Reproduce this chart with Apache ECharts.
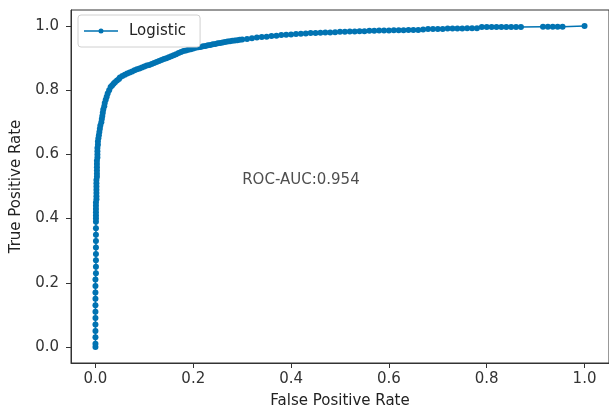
<!DOCTYPE html>
<html>
<head>
<meta charset="utf-8">
<script src="https://cdn.jsdelivr.net/npm/echarts@6/dist/echarts.min.js"></script>
<style>
html,body{margin:0;padding:0;background:#fff;}
#chart{width:609px;height:419px;}
</style>
</head>
<body>
<div id="chart"></div>
<script>
const seriesName = 'Logistic';
// vertical part, lower (sparse)
const fprLow = [0,0,0,0,0,0,0,0,0,0,0,0, 0.001,0.001,0.001,0.001,0.001,0.001,0.001,0.001,0.001];
const tprLow = [0,0.01,0.03,0.05,0.07,0.09,0.11,0.13,0.15,0.17,0.19,0.21, 0.23,0.25,0.27,0.29,0.31,0.33,0.35,0.37,0.39];
// vertical part, upper (dense)
const fprMid = [0.001,0.001,0.001,0.001,0.001,0.001, 0.002,0.002,0.002,0.002,0.002,0.002,0.002,
  0.003,0.003,0.003,0.003,0.003,0.003, 0.004,0.004,0.004,0.004, 0.005,0.005];
const tprMid = [0.40,0.41,0.42,0.43,0.44,0.45, 0.46,0.47,0.48,0.49,0.50,0.51,0.52,
  0.53,0.54,0.55,0.56,0.57,0.58, 0.59,0.60,0.61,0.62, 0.63,0.64];
// knee
const fprKnee = [0.006,0.007,0.008,0.009,0.010,0.012,0.013,0.014,0.015,0.016,0.018,0.019,0.021,0.023,0.025,0.028,0.031,0.034,0.037,0.040,0.044,0.048];
const tprKnee = [0.65,0.66,0.67,0.68,0.69,0.70,0.71,0.72,0.73,0.74,0.75,0.76,0.77,0.78,0.79,0.80,0.81,0.815,0.82,0.825,0.83,0.835];
// shoulder (dense)
const fprShoulder = [0.050,0.055,0.060,0.065,0.070,0.075,0.080,0.085,0.090,0.095,
  0.100,0.105,0.110,0.115,0.120,0.125,0.130,0.135,0.140,0.145,
  0.150,0.155,0.160,0.165,0.170,0.175,0.180,0.185,0.190,0.195,
  0.200,0.205,0.210,0.215,0.220,0.225,0.230,0.235,0.240,0.245,
  0.250,0.255,0.260,0.265,0.270,0.275,0.280,0.285,0.290,0.295];
const tprShoulder = [0.840,0.844,0.848,0.852,0.855,0.858,0.862,0.865,0.868,0.871,
  0.874,0.877,0.879,0.882,0.885,0.888,0.891,0.894,0.897,0.900,
  0.903,0.906,0.909,0.912,0.916,0.919,0.922,0.924,0.926,0.928,
  0.930,0.932,0.934,0.935,0.937,0.938,0.940,0.941,0.943,0.944,
  0.946,0.947,0.949,0.950,0.952,0.953,0.954,0.955,0.956,0.957];
// upper plateau
const fprTop = [0.30,0.31,0.32,0.33,0.34,0.35,0.36,0.37,0.38,0.39,
  0.40,0.41,0.42,0.43,0.44,0.45,0.46,0.47,0.48,0.49,
  0.50,0.51,0.52,0.53,0.54,0.55,0.56,0.57,0.58,0.59,
  0.60,0.61,0.62,0.63,0.64,0.65,0.66,0.67,0.68,0.69,
  0.70,0.71,0.72,0.73,0.74,0.75,0.76,0.77,0.78,0.79,
  0.80,0.81,0.82,0.83,0.84,0.85,0.86,0.87,
  0.915,0.925,0.935,0.945,0.955,1.0];
const tprTop = [0.958,0.960,0.962,0.964,0.966,0.967,0.969,0.970,0.972,0.973,
  0.974,0.975,0.976,0.977,0.978,0.978,0.979,0.980,0.980,0.981,
  0.982,0.982,0.983,0.983,0.984,0.984,0.985,0.985,0.986,0.986,
  0.986,0.987,0.987,0.987,0.988,0.988,0.988,0.989,0.991,0.991,
  0.991,0.991,0.992,0.992,0.992,0.992,0.993,0.993,0.993,0.997,
  0.997,0.997,0.997,0.997,0.997,0.997,0.997,0.997,
  0.998,0.998,0.998,0.998,0.998,1.0];
const xTicks = [0, 0.2, 0.4, 0.6, 0.8, 1.0];
const yTicks = [0, 0.2, 0.4, 0.6, 0.8, 1.0];
const xName = 'False Positive Rate';
const yName = 'True Positive Rate';
const annotation = 'ROC-AUC:0.954';
const annotationPos = [0.3, 0.5];

const fpr = fprLow.concat(fprMid, fprKnee, fprShoulder, fprTop);
const tpr = tprLow.concat(tprMid, tprKnee, tprShoulder, tprTop);
const points = fpr.map((x, i) => [x, tpr[i]]);
const color = '#0173b2';
const font = 'DejaVu Sans';
const axisColor = '#333';

const chart = echarts.init(document.getElementById('chart'), null, {renderer: 'canvas'});
const axisCommon = {
  type: 'value',
  min: -0.05,
  max: 1.05,
  nameLocation: 'middle',
  nameTextStyle: {fontFamily: font, fontSize: 15, color: '#222'},
  axisLine: {show: true, onZero: false, lineStyle: {color: axisColor, width: 1}},
  axisTick: {show: true, length: 5, lineStyle: {color: axisColor, width: 1}},
  splitLine: {show: false},
};
// legend icon: thin line with a small dot (34 x 5 box)
const legendIcon = 'path://M0,1.75 L34,1.75 L34,3.25 L0,3.25 Z M17,0 A2.5,2.5 0 1,1 17,5 A2.5,2.5 0 1,1 17,0 Z';
chart.setOption({
  animation: false,
  backgroundColor: '#fff',
  grid: {left: 71, right: -5, top: 10, bottom: 56, show: true, borderColor: axisColor, borderWidth: 1},
  legend: {
    data: [{name: seriesName, icon: legendIcon}],
    left: 78, top: 15,
    padding: [8, 12, 8, 6],
    itemWidth: 34, itemHeight: 5,
    itemStyle: {color: color},
    backgroundColor: '#fff',
    borderColor: '#d0d0d0', borderWidth: 1, borderRadius: 3,
    textStyle: {fontFamily: font, fontSize: 15, color: '#222', padding: [0, 2, 0, 6], lineHeight: 16}
  },
  xAxis: Object.assign({}, axisCommon, {
    name: xName, nameGap: 31,
    axisTick: Object.assign({}, axisCommon.axisTick, {customValues: xTicks}),
    axisLabel: {customValues: xTicks, margin: 9, fontFamily: font, fontSize: 15, color: axisColor,
      formatter: v => v.toFixed(1)}
  }),
  yAxis: Object.assign({}, axisCommon, {
    name: yName, nameGap: 47,
    axisTick: Object.assign({}, axisCommon.axisTick, {customValues: yTicks}),
    axisLabel: {customValues: yTicks, margin: 12, fontFamily: font, fontSize: 15, color: axisColor,
      formatter: v => v.toFixed(1)}
  }),
  series: [
    {
      name: seriesName,
      type: 'line',
      data: points,
      symbol: 'circle',
      symbolSize: 6,
      showSymbol: true,
      showAllSymbol: true,
      color: color,
      itemStyle: {color: color},
      lineStyle: {color: color, width: 1.5},
      emphasis: {disabled: true}
    },
    {
      name: 'annotation',
      type: 'scatter',
      data: [annotationPos],
      symbolSize: 0,
      silent: true,
      label: {
        show: true, position: [0, 0], align: 'left', verticalAlign: 'middle', offset: [0, -6],
        formatter: annotation, fontFamily: font, fontSize: 15, color: '#222'
      }
    }
  ]
});
</script>
</body>
</html>
